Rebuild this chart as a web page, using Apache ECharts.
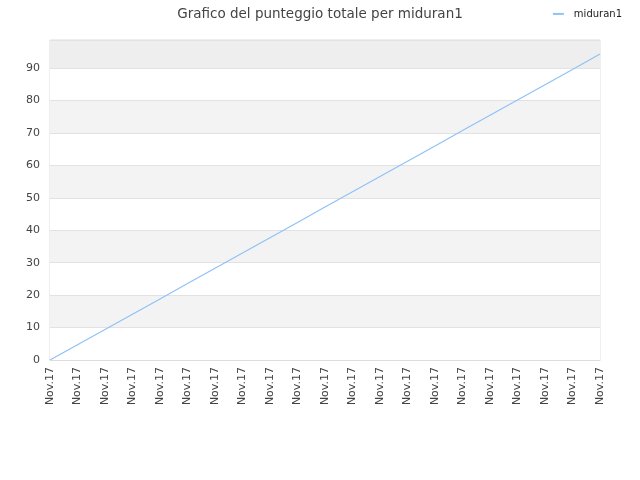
<!DOCTYPE html>
<style>
body {margin: 0;}
#div_echart {height: 480px; width: 640px;}
</style>
<script src='https://cdn.jsdelivr.net/npm/echarts@6/dist/echarts.min.js'></script>
<div id='div_echart'></div>
<script>
let title = 'Grafico del punteggio totale per miduran1'
let seriesName = 'miduran1'
let categories = ['Nov.17', 'Nov.17', 'Nov.17', 'Nov.17', 'Nov.17', 'Nov.17', 'Nov.17',
	'Nov.17', 'Nov.17', 'Nov.17', 'Nov.17', 'Nov.17', 'Nov.17', 'Nov.17',
	'Nov.17', 'Nov.17', 'Nov.17', 'Nov.17', 'Nov.17', 'Nov.17', 'Nov.17']
let scores = [0, 4.7, 9.4, 14.1, 18.8, 23.6, 28.3, 33.0, 37.7, 42.4, 47.2,
	51.9, 56.6, 61.3, 66.0, 70.8, 75.5, 80.2, 84.9, 89.6, 94.4]
let yMax = 98.7

let font = 'DejaVu Sans'
let echart = echarts.init(document.getElementById('div_echart'))
echart.setOption({
	animation: false,
	textStyle: {fontFamily: font},
	title: {
		text: title, left: 'center', top: 1, padding: 0,
		textStyle: {fontFamily: font, fontSize: 13.5, fontWeight: 'normal', color: '#444'}
	},
	legend: {
		right: 18, top: 4, padding: 0, itemWidth: 11, itemHeight: 2, itemGap: 8,
		icon: 'rect',
		textStyle: {fontFamily: font, fontSize: 10, color: '#222', padding: [0, 0, 0, 5]},
		data: [seriesName]
	},
	grid: {left: 50, right: 40, top: 40, bottom: 120, show: true, borderColor: '#dddddd', borderWidth: 1},
	xAxis: {
		type: 'category', data: categories, boundaryGap: false,
		axisLine: {lineStyle: {color: '#dddddd'}},
		axisTick: {show: false},
		axisLabel: {rotate: 90, interval: 0, fontSize: 11, color: '#444', margin: 7}
	},
	yAxis: {
		type: 'value', min: 0, max: yMax, interval: 10,
		axisLine: {show: false},
		axisTick: {show: false},
		axisLabel: {fontSize: 11, color: '#444', margin: 10, showMaxLabel: false},
		splitLine: {lineStyle: {color: '#e2e2e2'}},
		splitArea: {show: true, areaStyle: {color: ['#ffffff', '#f3f3f3', '#ffffff', '#f3f3f3', '#ffffff',
			'#f3f3f3', '#ffffff', '#f3f3f3', '#ffffff', '#eeeeee']}}
	},
	series: [{
		name: seriesName, type: 'line', data: scores, showSymbol: false,
		lineStyle: {color: '#8fc2f6', width: 1.2},
		itemStyle: {color: '#8fc2f6'}
	}]
})
</script>
